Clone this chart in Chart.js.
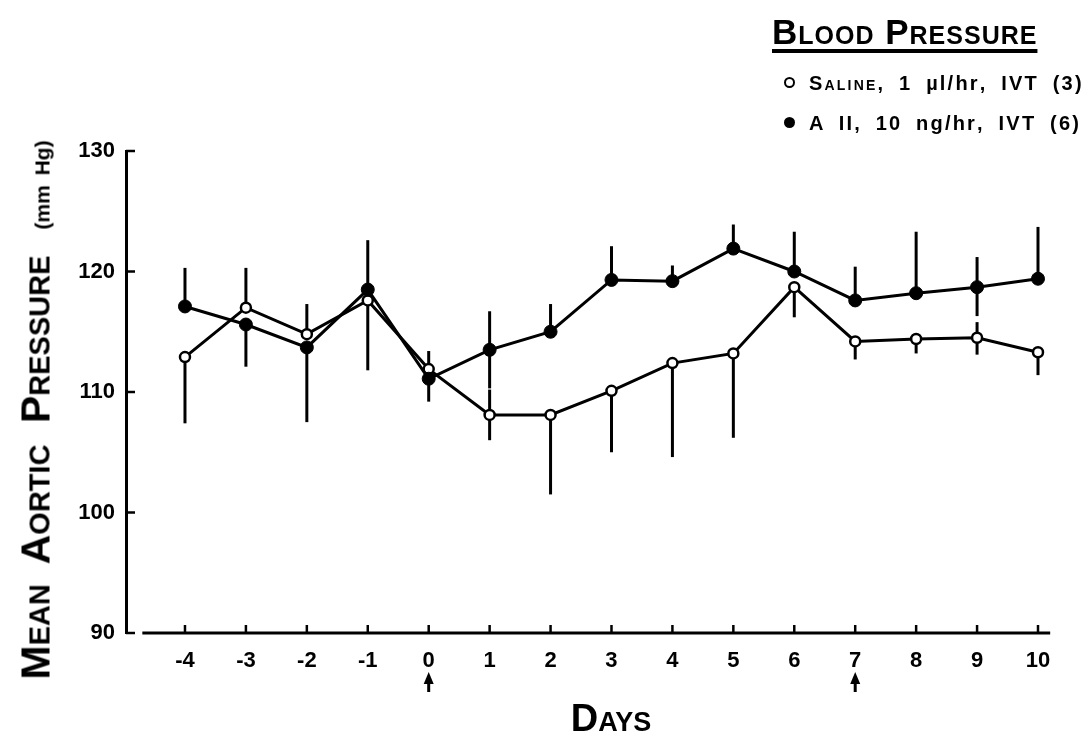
<!DOCTYPE html>
<html>
<head>
<meta charset="utf-8">
<script src="https://cdn.jsdelivr.net/npm/chart.js@4.4.1/dist/chart.umd.min.js"></script>
<style>
  html, body { margin: 0; padding: 0; background: #fff; }
  #wrap { position: relative; width: 1089px; height: 741px; overflow: hidden; }
  canvas { position: absolute; left: 0; top: 0; }
  .lbl { position: absolute; font-family: "Liberation Sans", Arial, sans-serif; font-weight: bold;
         font-variant: small-caps; color: #000; white-space: nowrap; }
  .lc { font-variant: normal; }
  #title { left: 772px; top: 12px; font-size: 35px; letter-spacing: 1px; text-decoration: underline;
           text-decoration-thickness: 4px; text-underline-offset: 5px; }
  .leg { left: 784px; font-size: 20px; letter-spacing: 2.2px; word-spacing: 6px; }
  .mark { display: inline-block; box-sizing: border-box; border-radius: 50%; margin-right: 14px;
          vertical-align: middle; position: relative; top: -2px; }
  #ytitle { left: 36px; top: 410px; font-size: 41px; transform: translate(-50%, -50%) rotate(-90deg);
            word-spacing: 10px; }
  #ytitle span { font-size: 21px; font-variant: normal; margin-left: 26px; word-spacing: 4px; }
  #xtitle { left: 611px; top: 718px; font-size: 38px; transform: translate(-50%, -50%); }
</style>
</head>
<body>
<div id="wrap">
  <canvas id="chart" width="1089" height="741"></canvas>
  <div class="lbl" id="title">Blood Pressure</div>
  <div class="lbl leg" style="top:72px"><span class="mark" style="width:11px;height:11px;border:2.5px solid #000;background:#fff"></span>Saline, 1 <span class="lc">µl/hr</span>, IVT (3)</div>
  <div class="lbl leg" style="top:112px"><span class="mark" style="width:11px;height:11px;background:#000"></span>A II, 10 <span class="lc">ng/hr</span>, IVT (6)</div>
  <div class="lbl" id="ytitle">Mean Aortic Pressure<span>(mm Hg)</span></div>
  <div class="lbl" id="xtitle">Days</div>
</div>
<script>
  // x ticks / categories (days)
  const days = [-4, -3, -2, -1, 0, 1, 2, 3, 4, 5, 6, 7, 8, 9, 10];
  const yTicks = [90, 100, 110, 120, 130];
  const arrowDays = [0, 7];

  // Saline, 1 µl/hr, IVT (3)  -- open circles
  const salineMean = [112.9, 117.0, 114.8, 117.6, 111.9, 108.1, 108.1, 110.1, 112.4, 113.2, 118.7, 114.2, 114.4, 114.5, 113.3];
  const salineHigh = [null, 120.3, 117.3, null, 113.4, 110.2, null, null, null, null, null, null, null, 115.8, null];
  const salineLow  = [107.4, null, null, 111.8, null, 106.0, 101.5, 105.0, 104.6, 106.2, 116.2, 112.7, 113.2, 113.1, 111.4];

  // A II, 10 ng/hr, IVT (6)  -- filled circles
  const aiiMean = [117.1, 115.6, 113.7, 118.5, 111.1, 113.5, 115.0, 119.3, 119.2, 121.9, 120.0, 117.6, 118.2, 118.7, 119.4];
  const aiiHigh = [120.3, null, null, 122.6, null, 116.7, 117.3, 122.1, 120.5, 123.9, 123.3, 120.4, 123.3, 121.2, 123.7];
  const aiiLow  = [null, 112.1, 107.5, null, 109.2, 110.3, null, null, null, null, null, null, null, 116.3, null];

  const tickFont = { family: '"Liberation Sans", Arial, sans-serif', size: 22, weight: 'bold' };

  const pts = arr => days.map((d, i) => ({ x: d, y: arr[i] }));

  // error bars, x axis line, tick marks and the two arrows
  const extras = {
    id: 'extras',
    beforeDatasetsDraw(chart) {
      const { ctx, scales: { x, y } } = chart;
      ctx.save();
      ctx.strokeStyle = '#000';
      ctx.fillStyle = '#000';
      ctx.lineCap = 'butt';

      // x axis line (starts a bit right of the y axis)
      const y0 = y.getPixelForValue(90);
      ctx.lineWidth = 3;
      ctx.beginPath();
      ctx.moveTo(x.getPixelForValue(-4.7), y0);
      ctx.lineTo(x.getPixelForValue(10.2), y0);
      ctx.stroke();

      ctx.lineWidth = 2.5;
      days.forEach(d => {
        const px = x.getPixelForValue(d);
        ctx.beginPath();
        ctx.moveTo(px, y0);
        ctx.lineTo(px, y0 - 8);
        ctx.stroke();
      });
      yTicks.forEach(v => {
        const py = y.getPixelForValue(v);
        ctx.beginPath();
        ctx.moveTo(x.left, py);
        ctx.lineTo(x.left + 9, py);
        ctx.stroke();
      });

      // arrows under day 0 and day 7
      arrowDays.forEach(d => {
        const px = x.getPixelForValue(d);
        ctx.lineWidth = 3;
        ctx.beginPath();
        ctx.moveTo(px, y0 + 59);
        ctx.lineTo(px, y0 + 48);
        ctx.stroke();
        ctx.beginPath();
        ctx.moveTo(px, y0 + 39);
        ctx.lineTo(px - 5, y0 + 51);
        ctx.lineTo(px + 5, y0 + 51);
        ctx.closePath();
        ctx.fill();
      });

      // error bars
      ctx.lineWidth = 3;
      const bars = (mean, ends) => {
        ends.forEach((e, i) => {
          if (e === null) return;
          const px = x.getPixelForValue(days[i]);
          ctx.beginPath();
          ctx.moveTo(px, y.getPixelForValue(mean[i]));
          ctx.lineTo(px, y.getPixelForValue(e));
          ctx.stroke();
        });
      };
      bars(salineMean, salineHigh);
      bars(salineMean, salineLow);
      bars(aiiMean, aiiHigh);
      bars(aiiMean, aiiLow);
      ctx.restore();
    }
  };

  new Chart(document.getElementById('chart'), {
    type: 'line',
    data: {
      datasets: [
        {
          label: 'A II, 10 ng/hr, IVT (6)',
          data: pts(aiiMean),
          borderColor: '#000',
          borderWidth: 3,
          pointRadius: 6.5,
          pointBackgroundColor: '#000',
          pointBorderColor: '#000',
          pointBorderWidth: 1,
          tension: 0,
          clip: false
        },
        {
          label: 'Saline, 1 µl/hr, IVT (3)',
          data: pts(salineMean),
          borderColor: '#000',
          borderWidth: 3,
          pointRadius: 5,
          pointBackgroundColor: '#fff',
          pointBorderColor: '#000',
          pointBorderWidth: 2.5,
          tension: 0,
          clip: false
        }
      ]
    },
    options: {
      responsive: false,
      animation: false,
      devicePixelRatio: 1,
      layout: { padding: { left: 70, right: 39, top: 151, bottom: 63 } },
      plugins: { legend: { display: false }, tooltip: { enabled: false } },
      scales: {
        x: {
          type: 'linear',
          min: -4.968,
          max: 10.197,
          afterBuildTicks: s => { s.ticks = days.map(v => ({ value: v })); },
          afterFit: s => { s.height = 45; },
          grid: { display: false },
          border: { display: false },
          ticks: { color: '#000', font: tickFont, padding: 7, maxRotation: 0, autoSkip: false,
                   callback: v => String(v) }
        },
        y: {
          min: 90,
          max: 130,
          afterBuildTicks: s => { s.ticks = yTicks.map(v => ({ value: v })); },
          afterFit: s => { s.width = 56; },
          grid: { display: false },
          border: { display: true, color: '#000', width: 3 },
          ticks: { color: '#000', font: tickFont, padding: 3, callback: v => String(v) }
        }
      }
    },
    plugins: [extras]
  });
</script>
</body>
</html>
